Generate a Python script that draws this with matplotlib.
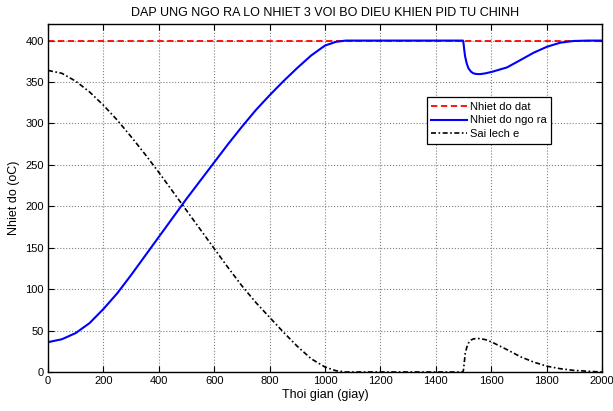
import numpy as np
import matplotlib
matplotlib.use('Agg')
import matplotlib.pyplot as plt

plt.rcParams['font.family'] = ['Liberation Sans', 'DejaVu Sans']

# du lieu doc tu hinh
t_out = [0, 50, 100, 150, 200, 250, 300, 350, 400, 450, 500, 550, 600, 650, 700, 750, 800, 850,
         900, 950, 1000, 1040, 1075,
         1498, 1500, 1503, 1506, 1512, 1518, 1527, 1536, 1548, 1560, 1580, 1603, 1657, 1705,
         1753, 1801, 1849, 1897, 1950, 2000]
y_out = [36, 39.5, 47, 59, 76, 95, 117, 140, 163, 186, 209, 231, 253, 275, 296, 316, 334, 351,
         367, 382, 394, 398.5, 400,
         400, 397, 388, 380.5, 372, 366.4, 362.5, 360.4, 359.6, 359.5, 360.5, 362.3, 367.6, 376.4,
         385.3, 392.5, 397.4, 399.5, 400, 400]

t_err = [0, 50, 100, 150, 200, 250, 300, 350, 400, 450, 500, 550, 600, 650, 700, 750, 800, 850,
         900, 950, 1000, 1040, 1075,
         1498, 1500, 1503, 1506, 1512, 1518, 1527, 1536, 1548, 1560, 1580, 1603, 1657, 1705,
         1753, 1801, 1849, 1897, 1970, 2000]
e_err = [364, 360.5, 351, 338, 322, 304, 284, 263, 241, 218, 195, 172, 149, 126, 104, 84, 66, 48,
         31, 16, 6, 1.5, 0,
         0, 3, 12, 22, 30, 35, 38.5, 40, 40.4, 40.3, 39, 36, 27, 18.5,
         12, 7, 4, 2, 0.5, 0]

t_set = [0, 2000]
y_set = [400, 400]

xticks = [0, 200, 400, 600, 800, 1000, 1200, 1400, 1600, 1800, 2000]
yticks = [0, 50, 100, 150, 200, 250, 300, 350, 400]

fig = plt.figure(figsize=(6.13, 4.11), dpi=100)
ax = fig.add_axes([48/613, 1-372/411, 554/613, 348/411])

ax.plot(t_set, y_set, '--', color='red', lw=1.3, dashes=(3.5, 2), label='Nhiet do dat')
ax.plot(t_out, y_out, '-', color='blue', lw=1.5, label='Nhiet do ngo ra')
ax.plot(t_err, e_err, '-.', color='black', lw=1.2, dashes=(3, 1.5, 1, 1.5), label='Sai lech e')

ax.set_xlim(0, 2000)
ax.set_ylim(0, 420)
ax.set_xticks(xticks)
ax.set_yticks(yticks)
ax.tick_params(direction='in', top=True, right=True, labelsize=8, length=4, width=0.8, pad=3)
ax.grid(True, color='#808080', linestyle=':', linewidth=0.8)
for s in ax.spines.values():
    s.set_linewidth(1.0)

ax.set_title('DAP UNG NGO RA LO NHIET 3 VOI BO DIEU KHIEN PID TU CHINH', fontsize=9, pad=6)
ax.set_xlabel('Thoi gian (giay)', fontsize=9, labelpad=2)
ax.set_ylabel('Nhiet do (oC)', fontsize=9, labelpad=4)

leg = ax.legend(loc='upper left', bbox_to_anchor=(0.684, 0.79), fontsize=8, fancybox=False,
                framealpha=1, edgecolor='black', borderpad=0.4, handlelength=3.2,
                labelspacing=0.35, handletextpad=0.3, borderaxespad=0)
leg.get_frame().set_linewidth(0.9)

fig.savefig('out.png', dpi=100)
